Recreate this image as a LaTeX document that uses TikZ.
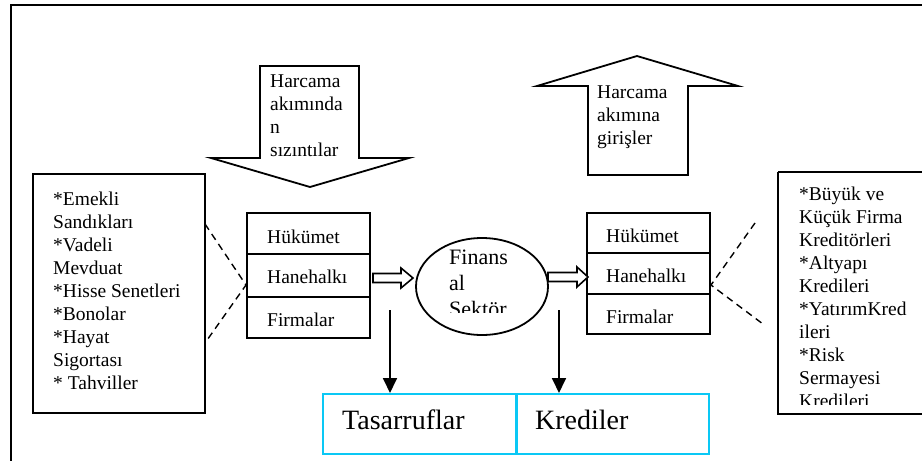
\documentclass[tikz,border=0pt]{standalone}
\usepackage{fontspec}
\setmainfont{Liberation Serif}
\usetikzlibrary{arrows.meta,shapes.geometric}
\definecolor{boxcyan}{RGB}{10,200,245}
\tikzset{
  frame/.style={draw=black, line width=2.2pt},
  box/.style={draw=black, line width=2pt},
  blockarrow/.style={draw=black, line width=1.8pt, fill=white, line join=miter},
  txt/.style={anchor=base west, inner sep=0pt, font=\fontsize{19.5}{23}\selectfont},
  bigtxt/.style={anchor=base west, inner sep=0pt, font=\fontsize{28}{30}\selectfont},
  fintxt/.style={anchor=base west, inner sep=0pt, font=\fontsize{22}{26}\selectfont},
  dashline/.style={draw=black, line width=1.4pt, dash pattern=on 7pt off 5pt},
  downarrow/.style={draw=black, line width=1.8pt, -{Triangle[length=15pt,width=14pt]}},
  cyanbox/.style={draw=boxcyan, line width=2pt},
}
\begin{document}
\begin{tikzpicture}[x=1pt,y=-1pt]
\useasboundingbox (0,0) rectangle (922,461);
\clip (0,0) rectangle (922,461);
% outer frame
\draw[frame] (11,480) -- (11,5) -- (940,5);

% down block arrow (leakages)
\draw[blockarrow] (260,66) -- (359,66) -- (359,158) -- (409,158) -- (310,187) -- (211,158) -- (260,158) -- cycle;
\node[txt] (leak) at (270,87) {\parbox[t]{90pt}{\raggedright Harcama\\akımında\\n\\sızıntılar}};

% up block arrow (injections)
\draw[blockarrow] (588,175) -- (588,86) -- (537,86) -- (637,56) -- (738,86) -- (688,86) -- (688,175) -- cycle;
\node[txt] (inj) at (597,98) {\parbox[t]{90pt}{\raggedright Harcama\\akımına\\girişler}};

% left list box
\draw[box] (33,174) rectangle (205,413);
\coordinate (lbA) at (205,224);
\coordinate (lbB) at (205,343);
\node[txt] (llist) at (53,205) {\parbox[t]{150pt}{\raggedright *Emekli\\Sandıkları\\{}*Vadeli\\Mevduat\\{}*Hisse Senetleri\\{}*Bonolar\\{}*Hayat\\Sigortası\\{}* Tahviller}};

% left stack
\node[box, minimum width=123pt, minimum height=41pt, inner sep=0pt] (lh) at (308.5,233.5) {};
\node[box, minimum width=123pt, minimum height=43pt, inner sep=0pt] (lha) at (308.5,275.5) {};
\node[box, minimum width=123pt, minimum height=41pt, inner sep=0pt] (lf) at (308.5,317.5) {};
\node[txt] (lht) at (267,243) {Hükümet};
\node[txt] (lhat) at (267,283) {Hanehalkı};
\node[txt] (lft) at (267,326) {Firmalar};
\coordinate (lapex) at (246,285);
\draw[dashline] (lbA) -- (lapex) -- (lbB);

% ellipse financial sector
\node[draw=black, line width=1.8pt, ellipse, minimum width=132pt, minimum height=97pt, inner sep=0pt] (fin) at (482,286.5) {};
\begin{scope}
\clip (420,240) rectangle (560,312);
\node[fintxt] (fint) at (449,264) {\parbox[t]{90pt}{\raggedright Finans\\al\\Sektör}};
\end{scope}

% hollow arrow 1
\draw[blockarrow, line width=1.6pt] (373,273.5) -- (401,273.5) -- (401,268) -- (413,278) -- (401,288) -- (401,282.5) -- (373,282.5) -- cycle;

% right stack
\node[box, minimum width=123pt, minimum height=40pt, inner sep=0pt] (rh) at (648.5,233) {};
\node[box, minimum width=123pt, minimum height=41pt, inner sep=0pt] (rha) at (648.5,273.5) {};
\node[box, minimum width=123pt, minimum height=40pt, inner sep=0pt] (rf) at (648.5,314) {};
\node[txt] (rht) at (606,242) {Hükümet};
\node[txt] (rhat) at (606,282) {Hanehalkı};
\node[txt] (rft) at (606,323) {Firmalar};

% hollow arrow 2
\draw[blockarrow, line width=1.6pt] (548,272.5) -- (577,272.5) -- (577,267) -- (588,277) -- (577,287) -- (577,281.5) -- (548,281.5) -- cycle;

% right list box
\draw[box] (778,172) -- (778,414) -- (940,414);
\draw[box] (778,172) -- (940,172);
\coordinate (rbA) at (755,223);
\coordinate (rbB) at (763,324);
\coordinate (rapex) at (711,285);
\draw[dashline] (rbA) -- (rapex) -- (rbB);
\begin{scope}
\clip (780,174) rectangle (922,404);
\node[txt] (rlist) at (799,200) {\parbox[t]{150pt}{\raggedright *Büyük ve\\Küçük Firma\\Kreditörleri\\{}*Altyapı\\Kredileri\\{}*YatırımKred\\ileri\\{}*Risk\\Sermayesi\\Kredileri}};
\end{scope}

% bottom cyan box
\node[cyanbox, minimum width=194pt, minimum height=60pt, inner sep=0pt] (tas) at (419.5,424) {};
\node[cyanbox, minimum width=193pt, minimum height=60pt, inner sep=0pt] (kre) at (612.5,424) {};
\node[bigtxt] (tast) at (342,429) {Tasarruflar};
\node[bigtxt] (kret) at (535,429) {Krediler};

% vertical arrows
\coordinate (s1) at (390,310);
\coordinate (s2) at (559,310);
\draw[downarrow] (s1) -- (s1 |- tas.north);
\draw[downarrow] (s2) -- (s2 |- kre.north);
\end{tikzpicture}
\end{document}
